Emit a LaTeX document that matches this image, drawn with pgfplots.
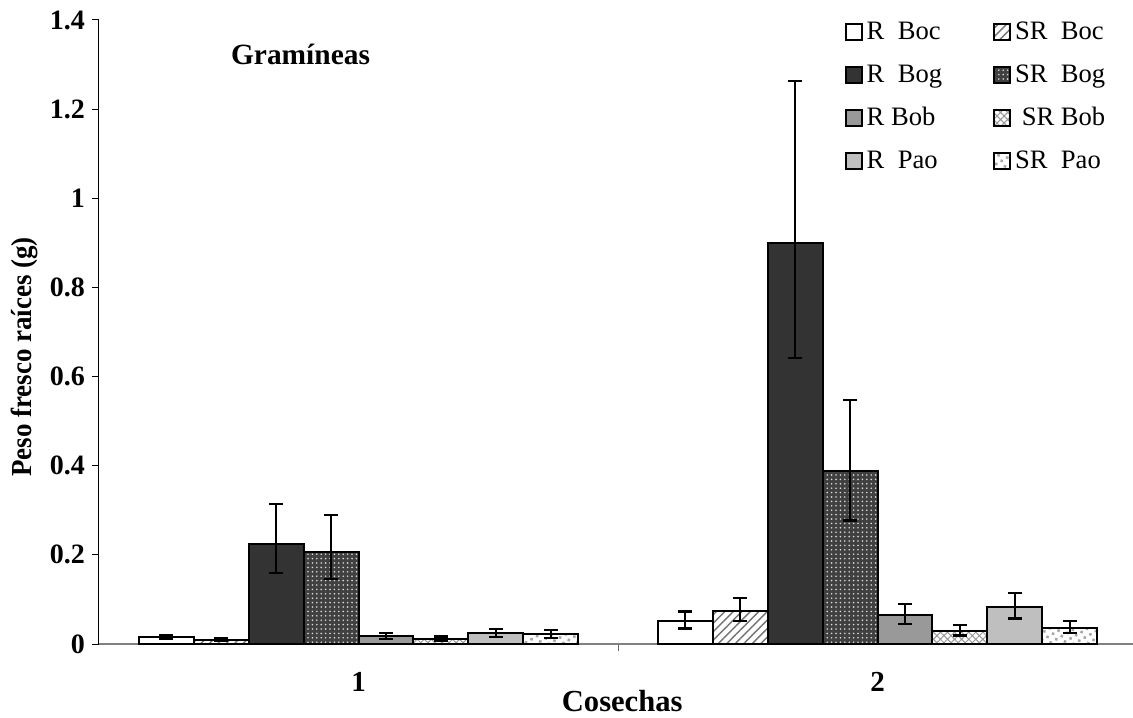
\documentclass[border=0pt]{standalone}
\usepackage{fontspec}
\setmainfont{Liberation Serif}
\usepackage{pgfplots}
\pgfplotsset{compat=1.18}
\usetikzlibrary{patterns.meta}

\pgfplotsset{
  eb/.style={
    /pgfplots/error bars/y dir=both,
    /pgfplots/error bars/y explicit,
    /pgfplots/error bars/error bar style={black, line width=1.1pt},
    /pgfplots/error bars/error mark options={rotate=90, black, line width=1.1pt, mark size=3.5pt},
  },
}

\begin{document}
\begin{tikzpicture}
\path[use as bounding box] (-49.5pt,-36.5pt) rectangle (517pt,322pt);
\begin{axis}[
  scale only axis, width=517pt, height=312pt,
  xmin=0.5, xmax=2.4923, ymin=0, ymax=1.4,
  ybar, bar width=27.45pt,
  axis x line*=bottom, axis y line*=left,
  x axis line style={draw=black!50, line width=0.8pt},
  y axis line style={draw=black, line width=0.5pt},
  tick align=outside, major tick length=3.5pt,
  xtick={1.5}, xticklabels={},
  x tick style={draw=black!60, line width=0.5pt},
  extra x ticks={1,2}, extra x tick labels={1,2},
  extra x tick style={major tick length=0pt,
    tick label style={font=\bfseries\fontsize{14.5}{16}\selectfont, anchor=center, yshift=-19pt}},
  ytick={0,0.2,0.4,0.6,0.8,1,1.2,1.4},
  y tick style={draw=black, line width=0.5pt},
  yticklabel style={font=\bfseries\fontsize{14}{16}\selectfont},
  /pgf/number format/assume math mode=true,
  ylabel={\scalebox{0.93}[1]{Peso fresco raíces (g)}},
  ylabel style={font=\bfseries\fontsize{14.5}{16}\selectfont,
    at={(axis description cs:-0.0716,0.46)}, anchor=center},
  xlabel={Cosechas},
  xlabel style={font=\bfseries\fontsize{15.3}{17}\selectfont,
    at={(axis description cs:0.506,-0.0913)}, anchor=center},
  legend columns=2,
  legend cell align=left,
  legend style={at={(axis description cs:0.715,1.01)}, anchor=north west,
    draw=none, fill=none, font=\fontsize{13.3}{15}\selectfont,
    row sep=7pt, /tikz/every even column/.append style={column sep=23.5pt}},
  legend image code/.code={\draw[#1, line width=1pt] (0pt,-4pt) rectangle (8pt,4pt);},
]
% R Boc
\addplot[draw=black, line width=1pt, fill=white, bar shift=-96.075pt, eb]
  coordinates {(1,0.016) +- (0,0.005) (2,0.052) += (0,0.021) -= (0,0.017)};
% SR Boc
\addplot[draw=black, line width=1pt, preaction={fill=white},
  pattern={Lines[angle=45, distance=3pt, line width=0.7pt]}, pattern color=black!55,
  bar shift=-68.625pt, eb]
  coordinates {(1,0.010) +- (0,0.004) (2,0.073) += (0,0.031) -= (0,0.021)};
% R Bog
\addplot[draw=black, line width=1pt, fill=black!80, bar shift=-41.175pt, eb]
  coordinates {(1,0.224) += (0,0.090) -= (0,0.065) (2,0.900) += (0,0.364) -= (0,0.259)};
% SR Bog
\addplot[draw=black, line width=1pt, preaction={fill=black!75},
  pattern={Dots[distance=2.2pt, radius=0.45pt]}, pattern color=white!85!black,
  bar shift=-13.725pt, eb]
  coordinates {(1,0.207) += (0,0.082) -= (0,0.061) (2,0.389) += (0,0.158) -= (0,0.112)};
% R Bob
\addplot[draw=black, line width=1pt, fill=black!40, bar shift=13.725pt, eb]
  coordinates {(1,0.018) +- (0,0.006) (2,0.065) += (0,0.025) -= (0,0.020)};
% SR Bob
\addplot[draw=black, line width=1pt, preaction={fill=white},
  pattern={Hatch[angle=45, distance=2.5pt, line width=0.5pt]}, pattern color=black!40,
  bar shift=41.175pt, eb]
  coordinates {(1,0.012) +- (0,0.005) (2,0.030) += (0,0.013) -= (0,0.011)};
% R Pao
\addplot[draw=black, line width=1pt, fill=black!25, bar shift=68.625pt, eb]
  coordinates {(1,0.024) +- (0,0.009) (2,0.082) += (0,0.032) -= (0,0.025)};
% SR Pao
\addplot[draw=black, line width=1pt, preaction={fill=white},
  pattern={Dots[distance=3.2pt, radius=0.9pt, angle=30]}, pattern color=black!35,
  bar shift=96.075pt, eb]
  coordinates {(1,0.022) +- (0,0.009) (2,0.036) += (0,0.016) -= (0,0.011)};
\legend{R\ \ Boc, SR\ \ Boc, R\ \ Bog, SR\ \ Bog, R Bob, \ SR Bob, R\ \ Pao, SR\ \ Pao}
\node[font=\bfseries\fontsize{14.7}{17}\selectfont] at (axis description cs:0.1949,0.945) {Gramíneas};
\end{axis}
\end{tikzpicture}
\end{document}
